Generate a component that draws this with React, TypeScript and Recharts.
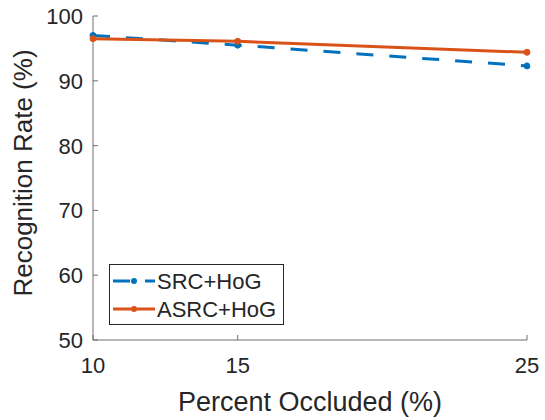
import React from "react";
import { LineChart, Line, XAxis, YAxis, Legend } from "recharts";

const percentOccluded = [10, 15, 25];
const srcHog = [97.0, 95.5, 92.3];
const asrcHog = [96.5, 96.1, 94.4];
const xTicks = [10, 15, 25];
const yTicks = [50, 60, 70, 80, 90, 100];

const BLUE = "#0072BD";
const ORANGE = "#D95319";
const INK = "#262626";
const AXIS = "#6e6e6e";
const FONT = '"Liberation Sans", Arial, Helvetica, sans-serif';

const rows = percentOccluded.map((p, i) => ({
  pct: p,
  src: srcHog[i],
  asrc: asrcHog[i],
}));

const series = [
  { key: "src", name: "SRC+HoG", color: BLUE, dash: "17 16" },
  { key: "asrc", name: "ASRC+HoG", color: ORANGE, dash: undefined },
];

// ticks point inward, MATLAB style
function XTick({ x, y, payload }: any) {
  return (
    <g>
      <line x1={x} x2={x} y1={y} y2={y - 5} stroke={AXIS} strokeWidth={1} />
      <text x={x} y={y + 33} textAnchor="middle" fill={INK} fontSize={22} fontFamily={FONT}>
        {payload.value}
      </text>
    </g>
  );
}

function YTick({ x, y, payload }: any) {
  return (
    <g>
      <line x1={x} x2={x + 5} y1={y} y2={y} stroke={AXIS} strokeWidth={1} />
      <text x={x - 10} y={y + 8} textAnchor="end" fill={INK} fontSize={22} fontFamily={FONT}>
        {payload.value}
      </text>
    </g>
  );
}

function LegendBox() {
  return (
    <svg width={175} height={61} style={{ display: "block" }}>
      <rect x={0.5} y={0.5} width={174} height={60} fill="#fff" stroke={INK} strokeWidth={1} />
      {series.map((s, i) => {
        const cy = 17 + i * 28;
        return (
          <g key={s.key}>
            <line
              x1={4}
              x2={46}
              y1={cy}
              y2={cy}
              stroke={s.color}
              strokeWidth={3}
              strokeDasharray={s.dash ? "17 15" : undefined}
            />
            <circle cx={25} cy={cy} r={3} fill={s.color} />
            <text x={48} y={cy + 8} fill={INK} fontSize={22} fontFamily={FONT}>
              {s.name}
            </text>
          </g>
        );
      })}
    </svg>
  );
}

export default function App() {
  return (
    <div style={{ position: "absolute", left: 0, top: 0, width: 545, height: 420, background: "#fff" }}>
      <LineChart
        width={545}
        height={420}
        data={rows}
        margin={{ top: 16, right: 18, left: 0, bottom: 0 }}
      >
        <XAxis
          dataKey="pct"
          type="number"
          domain={[10, 25]}
          ticks={xTicks}
          height={80}
          stroke={AXIS}
          tickLine={false}
          tickSize={0}
          tickMargin={0}
          tick={<XTick />}
          label={{
            content: ({ viewBox }: any) => (
              <text
                x={viewBox.x + viewBox.width / 2}
                y={viewBox.y + 71}
                textAnchor="middle"
                fill={INK}
                fontSize={27}
                fontFamily={FONT}
              >
                Percent Occluded (%)
              </text>
            ),
          }}
        />
        <YAxis
          type="number"
          domain={[50, 100]}
          ticks={yTicks}
          width={93}
          stroke={AXIS}
          tickLine={false}
          tickSize={0}
          tickMargin={0}
          tick={<YTick />}
          label={{
            content: ({ viewBox }: any) => (
              <text
                transform={`translate(32, ${viewBox.y + viewBox.height / 2 - 5}) rotate(-90)`}
                textAnchor="middle"
                fill={INK}
                fontSize={26}
                fontFamily={FONT}
              >
                Recognition Rate (%)
              </text>
            ),
          }}
        />
        {/* middle/center legend adds no offset to the plot area */}
        <Legend
          layout="horizontal"
          verticalAlign="middle"
          align="center"
          content={() => <LegendBox />}
          wrapperStyle={{ position: "absolute", left: 109, top: 264, width: 175, height: 61 }}
        />
        {series.map((s) => (
          <Line
            key={s.key}
            dataKey={s.key}
            name={s.name}
            type="linear"
            stroke={s.color}
            strokeWidth={3}
            strokeDasharray={s.dash}
            dot={{ r: 3, fill: s.color, stroke: s.color, strokeWidth: 1 }}
            activeDot={false}
            isAnimationActive={false}
          />
        ))}
      </LineChart>
    </div>
  );
}
